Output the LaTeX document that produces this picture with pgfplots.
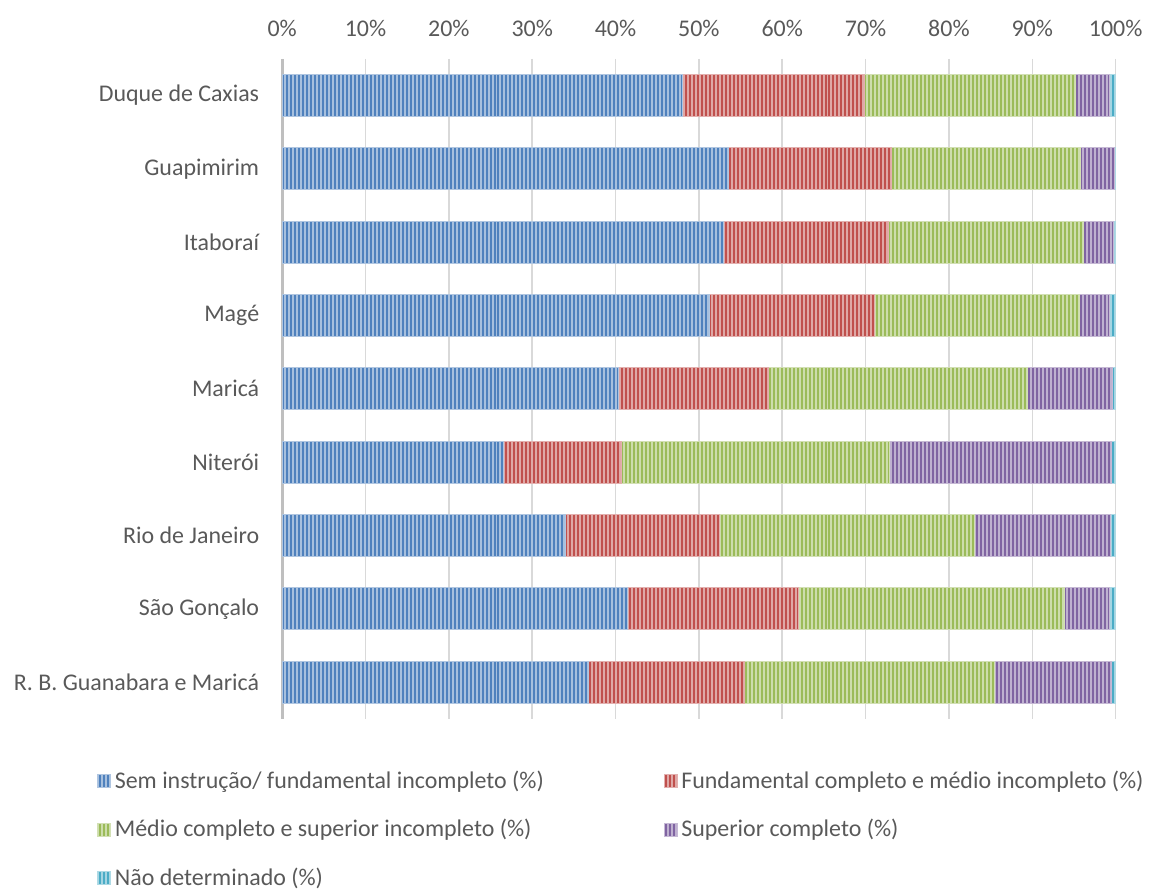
\documentclass[border=0pt]{standalone}
\usepackage{pgfplots}
\pgfplotsset{compat=1.18}
\usepackage{fontspec}
\setmainfont{Carlito}
\usetikzlibrary{patterns.meta}
\definecolor{cBlue}{HTML}{4F81BD}
\definecolor{cRed}{HTML}{C0504D}
\definecolor{cGreen}{HTML}{9BBB59}
\definecolor{cPurple}{HTML}{8064A2}
\definecolor{cCyan}{HTML}{4BACC6}
\definecolor{txt}{HTML}{595959}
\definecolor{gridc}{HTML}{D9D9D9}
\definecolor{axc}{HTML}{BFBFBF}
\pgfplotsset{stripe/.style={fill=#1!50!white, draw=#1!45!white, line width=0.4pt,
  postaction={pattern={Lines[angle=90,distance=2pt,line width=1pt]}, pattern color=#1}}}
\begin{document}
\begin{tikzpicture}
\begin{axis}[
  scale only axis, width=418pt, height=331pt,
  xbar stacked, bar width=21pt,
  xmin=0, xmax=100, ymin=-0.5, ymax=8.5, y dir=reverse,
  axis x line*=top, axis y line*=left,
  x axis line style={draw=none},
  y axis line style={draw=axc, line width=1.5pt},
  major tick length=0pt,
  xtick={0,10,...,100},
  xticklabels={0\%,10\%,20\%,30\%,40\%,50\%,60\%,70\%,80\%,90\%,100\%},
  ytick={0,...,8},
  yticklabels={Duque de Caxias,Guapimirim,Itaboraí,Magé,Maricá,Niterói,Rio de Janeiro,São Gonçalo,R. B. Guanabara e Maricá},
  ticklabel style={font=\fontsize{12}{14}\selectfont, text=txt},
  yticklabel style={xshift=-8pt},
  xticklabel style={yshift=7.5pt},
  xmajorgrids, grid style={draw=gridc, line width=0.75pt},
  legend columns=2,
  legend cell align=left,
  legend style={at={(axis description cs:0,0)}, xshift=-93pt, yshift=-24pt, anchor=north west, draw=none, fill=none,
    font=\fontsize{12}{14}\selectfont, text=txt, row sep=10pt, inner sep=0pt,
    /tikz/every even column/.append style={column sep=58pt}},
  legend image code/.code={\path[#1] (0pt,-3.25pt) rectangle (6.5pt,3.25pt);},
]
\addplot[stripe=cBlue] coordinates {(48.0,0) (53.5,1) (52.9,2) (51.3,3) (40.3,4) (26.6,5) (34.0,6) (41.4,7) (36.8,8)};
\addplot[stripe=cRed] coordinates {(21.9,0) (19.6,1) (19.8,2) (19.8,3) (18.1,4) (14.1,5) (18.5,6) (20.6,7) (18.7,8)};
\addplot[stripe=cGreen] coordinates {(25.3,0) (22.7,1) (23.4,2) (24.6,3) (31.0,4) (32.2,5) (30.5,6) (31.8,7) (29.9,8)};
\addplot[stripe=cPurple] coordinates {(4.1,0) (4.0,1) (3.6,2) (3.6,3) (10.2,4) (26.6,5) (16.4,6) (5.5,7) (14.1,8)};
\addplot[stripe=cCyan] coordinates {(0.7,0) (0.2,1) (0.3,2) (0.7,3) (0.4,4) (0.5,5) (0.6,6) (0.7,7) (0.5,8)};
\legend{Sem instrução/ fundamental incompleto (\%),Fundamental completo e médio incompleto (\%),Médio completo e superior incompleto (\%),Superior completo (\%),Não determinado (\%)}
\end{axis}
\path (current axis.south west) ++(-141.5pt,-81.5pt) coordinate (bbA);
\path (current axis.north east) ++(15pt,29.5pt) coordinate (bbB);
\path (bbA) rectangle (bbB);
\end{tikzpicture}
\end{document}
